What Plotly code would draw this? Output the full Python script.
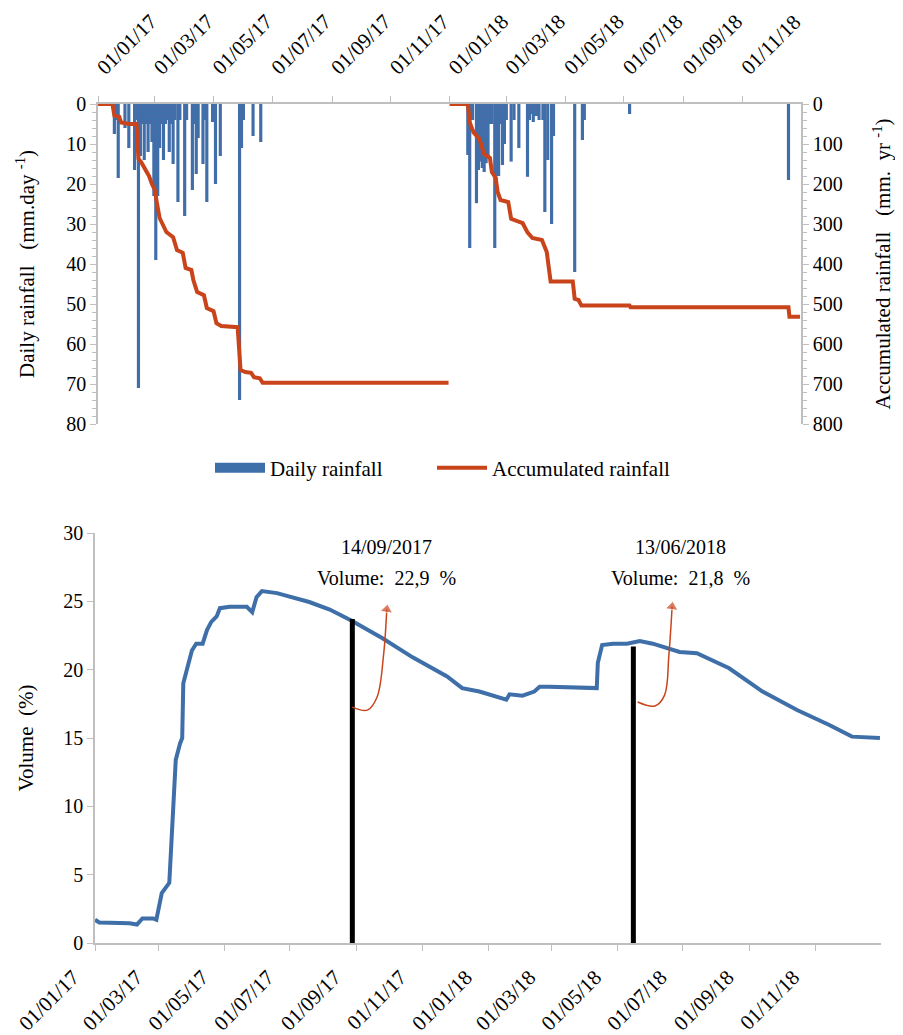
import plotly.graph_objects as go

# ---------------- data ----------------
rain_dates = [
    "2017-01-18", "2017-01-20", "2017-01-22", "2017-01-29", "2017-02-02",
    "2017-02-08", "2017-02-10", "2017-02-12", "2017-02-14", "2017-02-16",
    "2017-02-18", "2017-02-20", "2017-02-22", "2017-02-24", "2017-02-26",
    "2017-02-28", "2017-03-02", "2017-03-04", "2017-03-06", "2017-03-08",
    "2017-03-10", "2017-03-12", "2017-03-14", "2017-03-16", "2017-03-18",
    "2017-03-20", "2017-03-22", "2017-03-25", "2017-03-27", "2017-04-01",
    "2017-04-03", "2017-04-09", "2017-04-11", "2017-04-13", "2017-04-15",
    "2017-04-20", "2017-04-22", "2017-04-24", "2017-04-30", "2017-05-03",
    "2017-05-08", "2017-05-28", "2017-05-30", "2017-06-01", "2017-06-11",
    "2017-06-19",
    "2018-01-20", "2018-01-22", "2018-01-25", "2018-01-29", "2018-01-31",
    "2018-02-02", "2018-02-04", "2018-02-06", "2018-02-08", "2018-02-10",
    "2018-02-12", "2018-02-14", "2018-02-17", "2018-02-18", "2018-02-21",
    "2018-02-23", "2018-02-25", "2018-02-27", "2018-03-01", "2018-03-06",
    "2018-03-09", "2018-03-14", "2018-03-23", "2018-03-25", "2018-03-27",
    "2018-03-29", "2018-03-31", "2018-04-02", "2018-04-04", "2018-04-08",
    "2018-04-10", "2018-04-13", "2018-04-17", "2018-04-19", "2018-05-11",
    "2018-05-19", "2018-05-21", "2018-07-07", "2018-12-19",
]
rain_mm = [
    7.5, 4, 18.5, 6, 11,
    16.5, 4, 71, 13, 5,
    14, 5, 12, 5, 9.5,
    23, 39, 23, 11, 5,
    14, 5, 4, 12, 5,
    15, 4, 24.5, 4, 28,
    4, 21.5, 5, 17.5, 8.5,
    15, 4, 24.5, 4.5, 20,
    13, 74, 11, 4, 8,
    9.5,
    12.75, 36, 4, 24.8, 16.5,
    14.4, 16, 17, 14.8, 13,
    5, 5, 36, 20.7, 18,
    5, 15.25, 10, 4, 14.4,
    4, 11, 18.2, 4, 2.5,
    4.5, 3, 3, 4, 4,
    27, 14, 30, 8, 42,
    9, 4, 2.5, 19,
]

acc_dates_2017 = [
    "2017-01-01", "2017-01-16", "2017-01-18", "2017-01-23", "2017-01-25",
    "2017-02-02", "2017-02-10", "2017-02-12", "2017-02-15", "2017-02-19",
    "2017-02-23", "2017-02-26", "2017-03-01", "2017-03-03", "2017-03-06",
    "2017-03-10", "2017-03-13", "2017-03-20", "2017-03-24", "2017-03-30",
    "2017-04-02", "2017-04-08", "2017-04-10", "2017-04-14", "2017-04-21",
    "2017-04-24", "2017-05-01", "2017-05-04", "2017-05-09", "2017-05-26",
    "2017-05-29", "2017-06-03", "2017-06-09", "2017-06-12", "2017-06-18",
    "2017-06-21", "2017-12-31",
]
acc_mm_2017 = [
    0, 0, 29, 32, 46,
    50, 50, 137, 146, 165,
    180, 200, 215, 245, 285,
    305, 320, 333, 365, 372,
    410, 415, 440, 470, 478,
    510, 518, 548, 555, 558,
    665, 670, 672, 683, 686,
    697, 697,
]
acc_dates_2018 = [
    "2018-01-01", "2018-01-20", "2018-01-22", "2018-01-26", "2018-02-01",
    "2018-02-06", "2018-02-12", "2018-02-14", "2018-02-18", "2018-02-20",
    "2018-02-23", "2018-03-03", "2018-03-06", "2018-03-11", "2018-03-18",
    "2018-03-23", "2018-03-28", "2018-04-07", "2018-04-12", "2018-04-16",
    "2018-05-09", "2018-05-11", "2018-05-15", "2018-05-18", "2018-07-07",
    "2018-07-08", "2018-12-19", "2018-12-20", "2018-12-31",
]
acc_mm_2018 = [
    0, 0, 46, 71, 87,
    125, 135, 170, 185, 220,
    240, 245, 287, 292, 298,
    321, 335, 340, 370, 444,
    444, 487, 490, 504, 504,
    508, 508, 532, 532,
]

vol_dates = [
    "2017-01-01", "2017-01-05", "2017-02-02", "2017-02-09", "2017-02-14",
    "2017-02-24", "2017-02-27", "2017-03-04", "2017-03-11", "2017-03-14",
    "2017-03-17", "2017-03-21", "2017-03-23", "2017-03-24", "2017-03-27",
    "2017-04-01", "2017-04-05", "2017-04-11", "2017-04-15", "2017-04-19",
    "2017-04-24", "2017-04-27", "2017-05-06", "2017-05-22", "2017-05-27",
    "2017-05-31", "2017-06-05", "2017-06-19", "2017-07-19", "2017-08-07",
    "2017-08-27", "2017-09-25", "2017-10-23", "2017-11-24", "2017-12-08",
    "2017-12-24", "2018-01-18", "2018-01-21", "2018-02-02", "2018-02-13",
    "2018-02-18", "2018-02-27", "2018-04-12", "2018-04-13", "2018-04-17",
    "2018-04-27", "2018-05-10", "2018-05-22", "2018-06-03", "2018-06-28",
    "2018-07-14", "2018-08-13", "2018-09-13", "2018-10-15", "2018-11-14",
    "2018-12-05", "2018-12-31",
]
vol_pct = [
    1.7, 1.5, 1.45, 1.35, 1.8,
    1.8, 1.7, 3.65, 4.4, 9.0,
    13.4, 14.6, 15.0, 19.0, 20.0,
    21.4, 21.9, 21.9, 22.9, 23.5,
    23.9, 24.5, 24.6, 24.6, 24.2,
    25.3, 25.75, 25.6, 24.95, 24.4,
    23.6, 22.3, 20.9, 19.5, 18.65,
    18.4, 17.8, 18.2, 18.1, 18.4,
    18.75, 18.75, 18.65, 20.5, 21.8,
    21.9, 21.9, 22.1, 21.9, 21.3,
    21.2, 20.1, 18.4, 17.05, 15.95,
    15.1, 15.0,
]

mark_dates = ["2017-08-28", "2018-05-16"]
mark_vol = [23.7, 21.7]
note_dates = ["14/09/2017", "13/06/2018"]
note_values = ["22,9", "21,8"]
note_x = ["2017-09-29", "2018-06-29"]

arrow1_x = ["2017-08-28", "2017-09-11", "2017-09-20", "2017-09-26", "2017-09-29"]
arrow1_y = [17.26, 17.04, 18.0, 21.07, 24.4]
arrow2_x = ["2018-05-20", "2018-06-05", "2018-06-14", "2018-06-18", "2018-06-21"]
arrow2_y = [17.63, 17.34, 18.14, 21.07, 24.6]

tick_vals = ["2017-01-01", "2017-03-01", "2017-05-01", "2017-07-01", "2017-09-01",
             "2017-11-01", "2018-01-01", "2018-03-01", "2018-05-01", "2018-07-01",
             "2018-09-01", "2018-11-01"]
tick_text = ["01/01/17", "01/03/17", "01/05/17", "01/07/17", "01/09/17",
             "01/11/17", "01/01/18", "01/03/18", "01/05/18", "01/07/18",
             "01/09/18", "01/11/18"]

# ---------------- style ----------------
W, H = 903, 1035
OFF = 8  # page body margin


def fx(px):
    return (px - OFF) / W


def fy(py):
    return 1 - (py - OFF) / H


FONT = "Liberation Serif"
AX = "#BFBFBF"
BLUE = "#3E6FA8"
RED = "#C9441B"
DAY_MS = 86400000

fig = go.Figure()

fig.add_trace(go.Bar(
    x=rain_dates, y=rain_mm, name="Daily rainfall",
    xaxis="x", yaxis="y", width=3.3 * DAY_MS, showlegend=False,
    marker=dict(color=BLUE, line_width=0,
                pattern=dict(shape=".", fillmode="overlay", fgcolor="#6A5AA8",
                             size=5, solidity=0.15)),
))
# legend swatch for the bars (wide rectangle, as in the original legend)
fig.add_trace(go.Scatter(
    x=[None], y=[None], name="Daily rainfall", mode="lines",
    xaxis="x", yaxis="y", line=dict(color=BLUE, width=15), legend="legend",
))
fig.add_trace(go.Scatter(
    x=acc_dates_2017 + [None] + acc_dates_2018,
    y=acc_mm_2017 + [None] + acc_mm_2018,
    name="Accumulated rainfall", mode="lines", xaxis="x", yaxis="y3",
    line=dict(color=RED, width=4), connectgaps=False, legend="legend2",
))

fig.add_trace(go.Scatter(
    x=vol_dates, y=vol_pct, mode="lines", xaxis="x2", yaxis="y2",
    line=dict(color=BLUE, width=4), showlegend=False, name="Volume",
))
for d, v in zip(mark_dates, mark_vol):
    fig.add_trace(go.Scatter(
        x=[d, d], y=[0, v], mode="lines", xaxis="x2", yaxis="y2",
        line=dict(color="black", width=5), showlegend=False, hoverinfo="skip",
    ))
for ax_, ay_ in ((arrow1_x, arrow1_y), (arrow2_x, arrow2_y)):
    fig.add_trace(go.Scatter(
        x=ax_, y=ay_, mode="lines+markers", xaxis="x2", yaxis="y2",
        line=dict(color=RED, width=1.5, shape="spline"),
        marker=dict(symbol="triangle-up", size=[0] * (len(ax_) - 1) + [11],
                    color=RED, angle=8),
        showlegend=False, hoverinfo="skip",
    ))

for nd, nv, nx in zip(note_dates, note_values, note_x):
    fig.add_annotation(x=nx, y=29.0, xref="x2", yref="y2", text=nd,
                       showarrow=False, font=dict(family=FONT, size=20, color="black"))
    fig.add_annotation(x=nx, y=26.7, xref="x2", yref="y2",
                       text="Volume:  " + nv + "  %",
                       showarrow=False, font=dict(family=FONT, size=20, color="black"))

xtickfont = dict(family=FONT, size=21, color="black")
ytickfont = dict(family=FONT, size=20, color="black")
titlefont = dict(family=FONT, size=21, color="black")
common_x = dict(type="date", range=["2017-01-01", "2019-01-01"],
                tickmode="array", tickvals=tick_vals, ticktext=tick_text,
                tickangle=-45, ticks="outside", ticklen=6, tickcolor=AX,
                showline=True, linecolor=AX, linewidth=1.5, showgrid=False,
                zeroline=False, tickfont=xtickfont, automargin=False)
common_y = dict(ticks="outside", ticklen=6, tickcolor=AX, showline=True,
                linecolor=AX, linewidth=1.5, showgrid=False, zeroline=False,
                tickfont=ytickfont, automargin=False)
legend_font = dict(family=FONT, size=21, color="black")

fig.update_layout(
    width=W, height=H,
    margin=dict(l=0, r=0, t=0, b=0),
    paper_bgcolor="white", plot_bgcolor="white",
    font=dict(family=FONT, size=20, color="black"),
    barmode="overlay",
    xaxis=dict(domain=[fx(98), fx(801)], anchor="y", side="top",
               ticklabelstandoff=9, **common_x),
    yaxis=dict(domain=[fy(424), fy(104)], anchor="x", range=[80, 0],
               tickmode="linear", tick0=0, dtick=10,
               minor=dict(ticks="outside", dtick=2, ticklen=4, tickcolor=AX),
               title=dict(text="Daily rainfall   (mm.day <sup>-1</sup>)",
                          font=titlefont, standoff=26),
               **common_y),
    yaxis3=dict(overlaying="y", anchor="x", side="right", range=[800, 0],
                tickmode="linear", tick0=0, dtick=100,
                minor=dict(ticks="outside", dtick=20, ticklen=4, tickcolor=AX),
                title=dict(text="Accumulated rainfall   (mm.  yr <sup>-1</sup>)",
                           font=titlefont, standoff=34),
                **common_y),
    xaxis2=dict(domain=[fx(95), fx(881)], anchor="y2", side="bottom",
                ticklabelstandoff=6, ticklabelshift=-22, **common_x),
    yaxis2=dict(domain=[fy(943), fy(533)], anchor="x2", range=[0, 30],
                tickmode="linear", tick0=0, dtick=5,
                title=dict(text="Volume  (%)", font=titlefont, standoff=24),
                **common_y),
    legend=dict(orientation="h", x=fx(210), xanchor="left",
                y=fy(468), yanchor="middle", font=legend_font,
                itemwidth=50, bgcolor="rgba(0,0,0,0)"),
    legend2=dict(orientation="h", x=fx(432), xanchor="left",
                 y=fy(468), yanchor="middle", font=legend_font,
                 itemwidth=50, bgcolor="rgba(0,0,0,0)"),
)

fig.write_html("out.html")
